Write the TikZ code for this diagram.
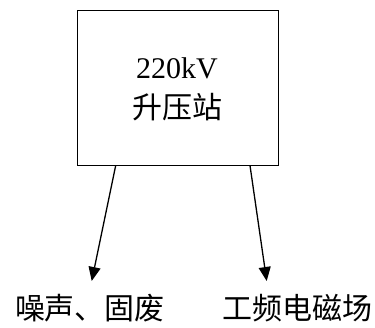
\documentclass[tikz,border=0pt]{standalone}
\usepackage{fontspec}
\setmainfont{Liberation Serif}
\newfontfamily\cjk{Noto Sans CJK SC}
\usetikzlibrary{arrows.meta}
\begin{document}
\begin{tikzpicture}[x=1pt,y=-1pt,
  conn/.style={line width=1.3pt,-{Triangle[length=14pt,width=12pt]}},
  lbl/.style={inner sep=0pt,font=\fontsize{30}{36}\selectfont}]
\useasboundingbox (0,0) rectangle (375,327);
\node[draw,line width=1.3pt,minimum width=201pt,minimum height=155pt,inner sep=0pt] (box) at (178,88) {};
\node[lbl] (t1) at (177,68) {220kV};
\node[lbl] (t2) at (177,107) {\cjk 升压站};
\coordinate (s1) at (115.7,165.5);
\coordinate (s2) at (250,165.5);
\node[lbl] (l1) at (90,308) {\cjk 噪声、固废};
\node[lbl] (l2) at (297,308) {\cjk 工频电磁场};
\coordinate (e1) at (91.7,281);
\coordinate (e2) at (266.7,281);
\draw[conn] (s1) -- (e1);
\draw[conn] (s2) -- (e2);
\end{tikzpicture}
\end{document}
